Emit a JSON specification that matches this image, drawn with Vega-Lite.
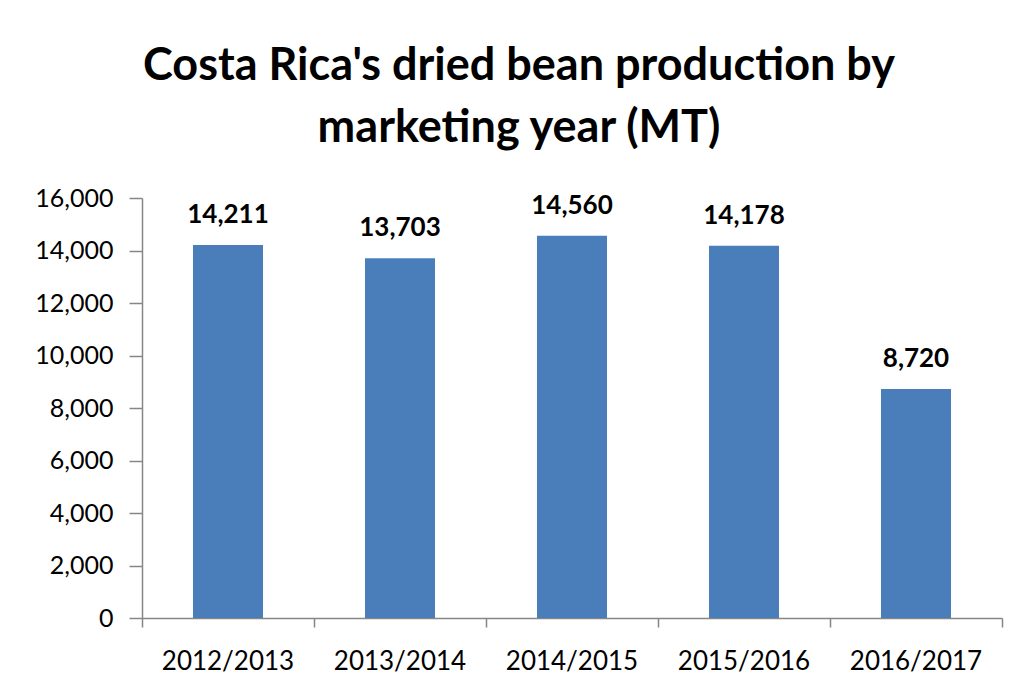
{
  "$schema": "https://vega.github.io/schema/vega-lite/v6.json",
  "width": 860,
  "height": 420,
  "autosize": {"type": "none"},
  "padding": {"left": 142, "top": 198, "right": 21, "bottom": 77},
  "background": "white",
  "title": {
    "text": ["Costa Rica's dried bean production by", "marketing year (MT)"],
    "font": "Lato",
    "fontSize": 45,
    "fontWeight": "bold",
    "color": "#000000",
    "lineHeight": 62,
    "offset": 35,
    "anchor": "middle",
    "dx": -53
  },
  "config": {"view": {"stroke": null}},
  "layer": [
    {
      "data": {
        "values": [
          {"year": "2012/2013", "value": 14211},
          {"year": "2013/2014", "value": 13703},
          {"year": "2014/2015", "value": 14560},
          {"year": "2015/2016", "value": 14178},
          {"year": "2016/2017", "value": 8720}
        ]
      },
      "encoding": {
        "x": {
          "field": "year",
          "type": "nominal",
          "sort": null,
          "scale": {"paddingInner": 0.593, "paddingOuter": 0.2965},
          "axis": {
            "title": null,
            "orient": "bottom",
            "domain": false,
            "ticks": false,
            "labelAngle": 0,
            "labelFont": "Lato",
            "labelFontSize": 26,
            "labelColor": "#000000",
            "labelPadding": 30
          }
        },
        "y": {
          "field": "value",
          "type": "quantitative",
          "scale": {"domain": [0, 16000], "nice": false},
          "axis": {
            "title": null,
            "values": [0, 2000, 4000, 6000, 8000, 10000, 12000, 14000, 16000],
            "format": ",.0f",
            "grid": false,
            "domainColor": "#868686",
            "domainWidth": 1.5,
            "tickColor": "#868686",
            "tickWidth": 1.5,
            "tickSize": 13,
            "labelFont": "Lato",
            "labelFontSize": 25,
            "labelColor": "#000000",
            "labelPadding": 16
          }
        }
      },
      "layer": [
        {"mark": {"type": "bar", "color": "#4A7EBB"}},
        {
          "mark": {
            "type": "text",
            "font": "Lato",
            "fontSize": 26,
            "fontWeight": "bold",
            "color": "#000000",
            "baseline": "alphabetic",
            "dy": -22
          },
          "encoding": {"text": {"field": "value", "type": "quantitative", "format": ",.0f"}}
        }
      ]
    },
    {
      "data": {"values": [{"b": 0}, {"b": 1}, {"b": 2}, {"b": 3}, {"b": 4}, {"b": 5}]},
      "mark": {"type": "rule", "opacity": 0},
      "encoding": {
        "x": {
          "field": "b",
          "type": "quantitative",
          "scale": {"domain": [0, 5], "nice": false, "zero": false},
          "axis": {
            "title": null,
            "orient": "bottom",
            "values": [0, 1, 2, 3, 4, 5],
            "labels": false,
            "grid": false,
            "domainColor": "#868686",
            "domainWidth": 1.5,
            "tickColor": "#868686",
            "tickWidth": 1.5,
            "tickSize": 9
          }
        }
      }
    }
  ],
  "resolve": {"scale": {"x": "independent"}, "axis": {"x": "independent"}}
}
